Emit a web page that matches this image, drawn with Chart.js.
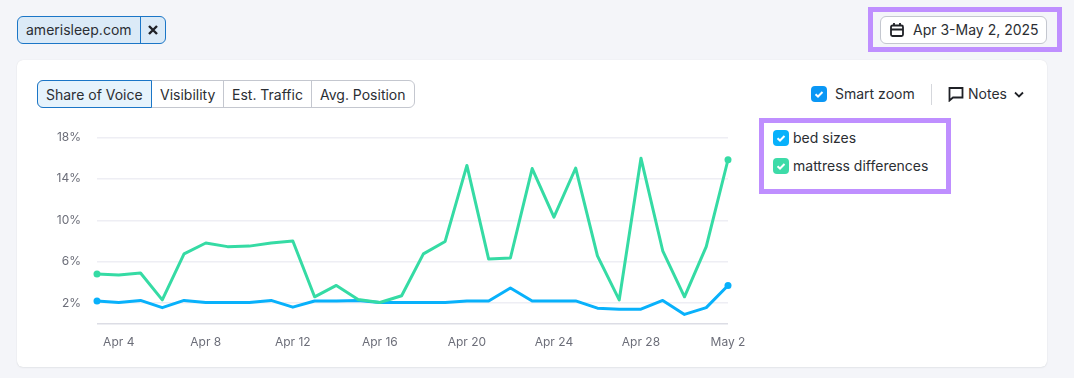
<!DOCTYPE html>
<html><head><meta charset="utf-8">
<script src="https://cdn.jsdelivr.net/npm/chart.js@4"></script>
<style>
html,body{margin:0;padding:0;width:1074px;height:378px;overflow:hidden;background:#f4f5f9;font-family:Inter,sans-serif;color:#2b2e33;font-size:14px}
.a{position:absolute;box-sizing:border-box;white-space:nowrap}
.card{left:17px;top:60px;width:1030px;height:307px;background:#fff;border-radius:6px;box-shadow:0 0 1px rgba(25,27,35,.12),0 1px 2px rgba(25,27,35,.06)}
.tag{left:17px;top:16px;width:149px;height:28px;background:#dbeaf7;border:1px solid #1b76c7;border-radius:6px}
.sep{top:16px;left:140px;width:1px;height:28px;background:#1b76c7}
.t{line-height:20px}
.tabs{left:37px;top:80px;width:378px;height:28px;border:1px solid #c4c7cf;border-radius:6px;background:#fff}
.tab1{left:37px;top:80px;width:115px;height:28px;background:#e6f3fc;border:1px solid #1b76c7;border-radius:6px 0 0 6px}
.d{top:80px;width:1px;height:28px;background:#c4c7cf}
.date{left:880px;top:16px;width:167px;height:28px;border:1px solid #c4c7cf;border-radius:6px;background:#fff}
.pur{border:5px solid #bf8fff}
.cb{width:16px;height:16px;border-radius:4px}
canvas{position:absolute;left:40px;top:114px}
</style></head><body>
<div class="a card"></div>
<div class="a tag"></div><div class="a sep"></div>
<div class="a t" style="left:26px;top:20px">amerisleep.com</div>
<svg class="a" style="left:147px;top:24px" width="12" height="12"><path d="M2 2L10 10M10 2L2 10" stroke="#1f2126" stroke-width="2.4"/></svg>

<div class="a tabs"></div><div class="a tab1"></div>
<div class="a d" style="left:223px"></div><div class="a d" style="left:311px"></div>
<div class="a t" style="left:46px;top:85px">Share of Voice</div>
<div class="a t" style="left:160px;top:85px">Visibility</div>
<div class="a t" style="left:232px;top:85px">Est. Traffic</div>
<div class="a t" style="left:320px;top:85px">Avg. Position</div>

<div class="a date"></div>
<svg class="a" style="left:889px;top:22px" width="16" height="16" fill="none" stroke="#1f2126" stroke-width="1.8"><rect x="2" y="3.5" width="12" height="10.5" rx="1.5"/><path d="M2 7.5H14M5 1V4M11 1V4"/></svg>
<div class="a t" style="left:913px;top:20px">Apr 3-May 2, 2025</div>
<div class="a pur" style="left:868px;top:7px;width:194px;height:45px"></div>

<div class="a cb" style="left:811px;top:86px;background:#0a97f5"></div>
<svg class="a" style="left:811px;top:86px" width="16" height="16" fill="none" stroke="#fff" stroke-width="2"><path d="M4.5 8.2L7 10.5L11.5 6"/></svg>
<div class="a t" style="left:835px;top:84px">Smart zoom</div>
<div class="a" style="left:931px;top:84px;width:1px;height:21px;background:#d5d7dc"></div>
<svg class="a" style="left:948px;top:86px" width="16" height="16" fill="none" stroke="#1f2126" stroke-width="1.8"><path d="M1.5 2H14.5V11.5H5L1.5 14.5Z"/></svg>
<div class="a t" style="left:968px;top:84px">Notes</div>
<svg class="a" style="left:1013px;top:90px" width="12" height="10" fill="none" stroke="#1f2126" stroke-width="1.8"><path d="M2 2.5L6 6.5L10 2.5"/></svg>

<div class="a pur" style="left:759px;top:118px;width:192px;height:76px"></div>
<div class="a cb" style="left:773px;top:130px;background:#08b1fb"></div>
<svg class="a" style="left:773px;top:130px" width="16" height="16" fill="none" stroke="#fff" stroke-width="2"><path d="M4.5 8.2L7 10.5L11.5 6"/></svg>
<div class="a t" style="left:793px;top:128px">bed sizes</div>
<div class="a cb" style="left:773px;top:158px;background:#3ddba8"></div>
<svg class="a" style="left:773px;top:158px" width="16" height="16" fill="none" stroke="#fff" stroke-width="2"><path d="M4.5 8.2L7 10.5L11.5 6"/></svg>
<div class="a t" style="left:793px;top:156px">mattress differences</div>

<canvas id="c" width="720" height="241"></canvas>
<script>
const categories = ["Apr 3","Apr 4","Apr 5","Apr 6","Apr 7","Apr 8","Apr 9","Apr 10","Apr 11","Apr 12","Apr 13","Apr 14","Apr 15","Apr 16","Apr 17","Apr 18","Apr 19","Apr 20","Apr 21","Apr 22","Apr 23","Apr 24","Apr 25","Apr 26","Apr 27","Apr 28","Apr 29","Apr 30","May 1","May 2"];
const bedSizes = [2.2,2.05,2.25,1.55,2.25,2.05,2.05,2.05,2.25,1.6,2.2,2.2,2.25,2.05,2.05,2.05,2.05,2.2,2.2,3.45,2.2,2.2,2.2,1.5,1.4,1.4,2.25,0.9,1.55,3.7];
const mattressDifferences = [4.8,4.7,4.9,2.3,6.75,7.8,7.45,7.5,7.8,8.0,2.6,3.7,2.35,2.05,2.7,6.75,7.95,15.3,6.25,6.35,15.0,10.3,15.05,6.55,2.3,16.0,7.05,2.6,7.45,15.85];
const xTickLabels = ["Apr 4","Apr 8","Apr 12","Apr 16","Apr 20","Apr 24","Apr 28","May 2"];
const yTickValues = [0,2,6,10,14,18];

const endDots = ctx => (ctx.dataIndex === 0 || ctx.dataIndex === categories.length - 1) ? 3.5 : 0;
const line = (label, data, color) => ({label, data, borderColor: color, backgroundColor: color, borderWidth: 3,
  pointRadius: endDots, pointHoverRadius: 0, pointBorderWidth: 0, tension: 0, clip: false, borderJoinStyle: 'round'});

new Chart(document.getElementById('c'), {
  type: 'line',
  data: {labels: categories, datasets: [
    line('mattress differences', mattressDifferences, '#35dba4'),
    line('bed sizes', bedSizes, '#08b1fb')
  ]},
  options: {
    responsive: false, animation: false, events: [],
    layout: {padding: {top: 23.5, right: 32, left: 0, bottom: 0}},
    plugins: {legend: {display: false}, tooltip: {enabled: false}},
    scales: {
      x: {
        offset: false,
        border: {display: false},
        grid: {display: false, drawTicks: false},
        ticks: {autoSkip: false, maxRotation: 0, padding: 11, color: '#6c6e79', font: {family: 'Inter', size: 12},
          callback(v, i) { const l = categories[i]; return xTickLabels.includes(l) ? l : ''; }},
        afterFit(s) { s.height = 31.3; }
      },
      y: {
        min: 0, max: 18,
        border: {display: false},
        grid: {drawTicks: false, lineWidth: 1.5, color: c => c.tick && c.tick.value === 0 ? '#dcdde5' : '#eeeef4'},
        afterBuildTicks(s) { s.ticks = yTickValues.map(value => ({value})); },
        ticks: {autoSkip: false, padding: 16, color: '#6c6e79', font: {family: 'Inter', size: 12},
          callback: v => v === 0 ? ' ' : v + '%'},
        afterFit(s) { s.width = 57; }
      }
    }
  }
});
</script>
</body></html>
